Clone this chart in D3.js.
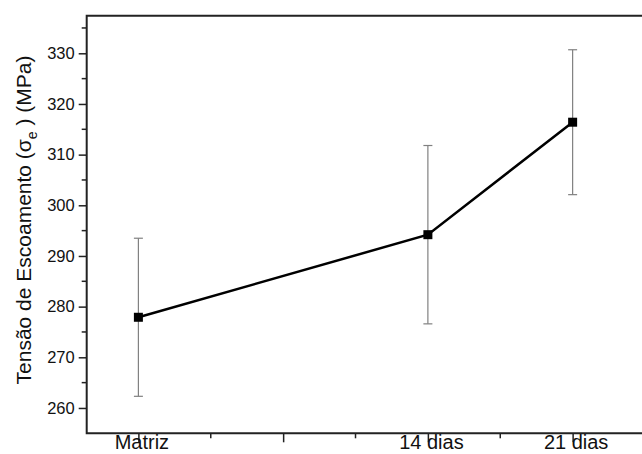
<!DOCTYPE html>
<html>
<head>
<meta charset="utf-8">
<script src="https://cdn.jsdelivr.net/npm/d3@7"></script>
<style>
  body { margin: 0; background: #fff; }
  svg { display: block; }
</style>
</head>
<body>
<div id="chart"></div>
<script>
// data
var days = [0, 14, 21];
var dayLabels = ["Matriz", "14 dias", "21 dias"];
var tensao = [277.9, 294.2, 316.4];
var erro = [15.6, 17.6, 14.3];
var yTicks = [260, 270, 280, 290, 300, 310, 320, 330];

var width = 642, height = 454;

var svg = d3.select("#chart")
  .append("svg")
    .attr("width", width)
    .attr("height", height);

var x = d3.scaleLinear().domain([-2.5, 24.5]).range([86.7, 645]);
var y = d3.scaleLinear().domain([255, 337.4]).range([433.3, 15.8]);

var font = "Arial, 'Liberation Sans', sans-serif";

// minor ticks
var yMinor = d3.range(265, 337, 10);
svg.selectAll("line.yminor")
  .data(yMinor)
  .enter().append("line")
    .attr("x1", x(-2.5) - 5).attr("x2", x(-2.5))
    .attr("y1", function(d) { return y(d); })
    .attr("y2", function(d) { return y(d); })
    .style("stroke", "#222").style("stroke-width", 1.5);

var xMinor = [3.5, 10.5, 17.5];
svg.selectAll("line.xminor")
  .data(xMinor)
  .enter().append("line")
    .attr("x1", function(d) { return x(d); })
    .attr("x2", function(d) { return x(d); })
    .attr("y1", y(255)).attr("y2", y(255) + 5)
    .style("stroke", "#222").style("stroke-width", 1.5);

// y axis
var yAxis = svg.append("g")
  .attr("transform", "translate(" + x(-2.5) + ",0)")
  .call(d3.axisLeft(y).tickValues(yTicks).tickSize(8).tickPadding(4));
yAxis.select(".domain").remove();
yAxis.selectAll(".tick line").style("stroke", "#222").style("stroke-width", 1.5);
yAxis.selectAll("text")
  .style("font-family", font).style("font-size", "16.5px").style("fill", "#111");

// x axis
var xAxis = svg.append("g")
  .attr("transform", "translate(0," + y(255) + ")")
  .call(d3.axisBottom(x).tickValues([0, 7, 14, 21]).tickSize(9)
    .tickFormat(function(d) { var i = days.indexOf(d); return i < 0 ? "" : dayLabels[i]; }));
xAxis.select(".domain").remove();
xAxis.selectAll(".tick line").style("stroke", "#222").style("stroke-width", 1.5);
xAxis.selectAll("text")
  .attr("y", 1)
  .attr("dx", 3)
  .style("font-family", font).style("font-size", "20px").style("fill", "#111");

// frame: left, top, bottom
svg.append("path")
  .attr("d", "M" + width + "," + y(337.4) + "H" + x(-2.5) + "V" + y(255) + "H" + width)
  .style("fill", "none").style("stroke", "#222").style("stroke-width", 2);

// axis title
var title = svg.append("text")
  .attr("transform", "translate(31," + 220 + ") rotate(-90)")
  .attr("text-anchor", "middle")
  .style("font-family", font).style("font-size", "21px").style("fill", "#111");
title.append("tspan").text("Tensão de Escoamento (σ");
title.append("tspan").attr("dy", 6).style("font-size", "14px").text("e");
title.append("tspan").attr("dy", -6).text(" ) (MPa)");

// error bars
var pts = days.map(function(d, i) { return {d: d, v: tensao[i], e: erro[i]}; });

var eb = svg.selectAll("g.eb")
  .data(pts)
  .enter().append("g");
eb.append("line")
  .attr("x1", function(p) { return x(p.d); })
  .attr("x2", function(p) { return x(p.d); })
  .attr("y1", function(p) { return y(p.v - p.e); })
  .attr("y2", function(p) { return y(p.v + p.e); })
  .style("stroke", "#808080").style("stroke-width", 1.2);
[-1, 1].forEach(function(s) {
  eb.append("line")
    .attr("x1", function(p) { return x(p.d) - 4.5; })
    .attr("x2", function(p) { return x(p.d) + 4.5; })
    .attr("y1", function(p) { return y(p.v + s * p.e); })
    .attr("y2", function(p) { return y(p.v + s * p.e); })
    .style("stroke", "#808080").style("stroke-width", 1.2);
});

// line
svg.append("path")
  .datum(pts)
  .attr("d", d3.line().x(function(p) { return x(p.d); }).y(function(p) { return y(p.v); }))
  .style("fill", "none").style("stroke", "#000").style("stroke-width", 2.5);

// markers
svg.selectAll("rect.pt")
  .data(pts)
  .enter().append("rect")
    .attr("x", function(p) { return x(p.d) - 4.5; })
    .attr("y", function(p) { return y(p.v) - 4.5; })
    .attr("width", 9).attr("height", 9)
    .style("fill", "#000");
</script>
</body>
</html>
